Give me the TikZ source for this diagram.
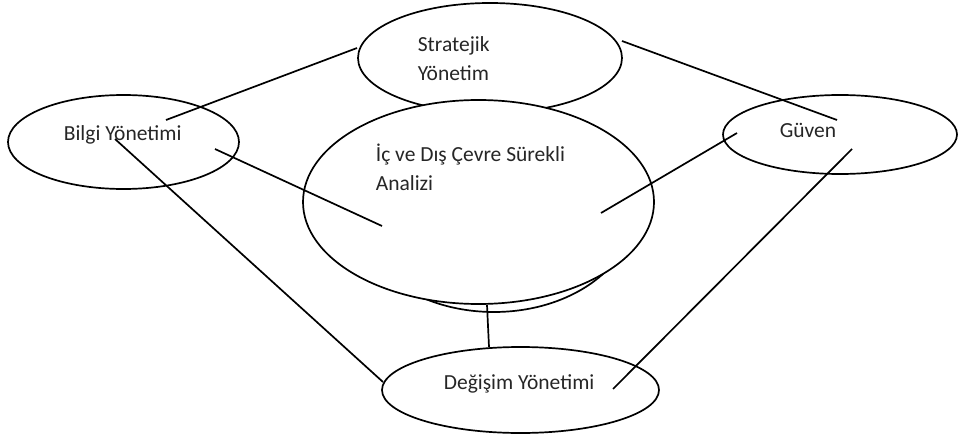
\documentclass[tikz,border=0pt]{standalone}
\usepackage{fontspec}
\setmainfont{Carlito}
\usepackage{tikz}
\usetikzlibrary{shapes.geometric}

\begin{document}
\begin{tikzpicture}[x=1pt,y=-1pt,line width=1.7pt,
  oval/.style={ellipse,draw,inner sep=0pt,outer sep=0pt},
  label/.style={anchor=base west,inner sep=0pt,align=left,text=black!85,
    font=\fontsize{21.5}{29}\selectfont}]
\useasboundingbox (0,0) rectangle (958,436);
\node[oval,minimum width=264pt,minimum height=110pt] (strat) at (490,58) {};
\draw (494,208) ellipse [x radius=141, y radius=104];
\node[oval,fill=white,minimum width=351pt,minimum height=204pt] (analiz) at (478.5,202) {};
\node[oval,minimum width=231pt,minimum height=94pt] (bilgi) at (123.5,142) {};
\node[oval,minimum width=234pt,minimum height=79pt] (guven) at (840,134.5) {};
\node[oval,minimum width=277pt,minimum height=86pt] (degisim) at (520.5,390) {};
\node[label] (tstrat) at (417,81) {Stratejik\\Yönetim};
\node[label] (tanaliz) at (375,190) {İç ve Dış Çevre Sürekli\\Analizi};
\node[label] (tbilgi) at (63,140) {Bilgi Yönetimi};
\node[label] (tguven) at (779,137) {Güven};
\node[label] (tdegisim) at (443,389) {Değişim Yönetimi};
\coordinate (b1) at (166,120);
\coordinate (b2) at (215,149);
\coordinate (b3) at (115,139);
\coordinate (s1) at (357,48);
\coordinate (s2) at (622,41);
\coordinate (g1) at (837,120);
\coordinate (g2) at (737,133);
\coordinate (g3) at (852,149);
\coordinate (a1) at (382,226);
\coordinate (a2) at (601,213);
\coordinate (a3) at (487,305);
\coordinate (d1) at (383,382);
\coordinate (d2) at (613,389);
\coordinate (d3) at (489,347);
\draw (b1) -- (s1);
\draw (s2) -- (g1);
\draw (b2) -- (a1);
\draw (g2) -- (a2);
\draw (b3) -- (d1);
\draw (g3) -- (d2);
\draw (a3) -- (d3);
\end{tikzpicture}
\end{document}
